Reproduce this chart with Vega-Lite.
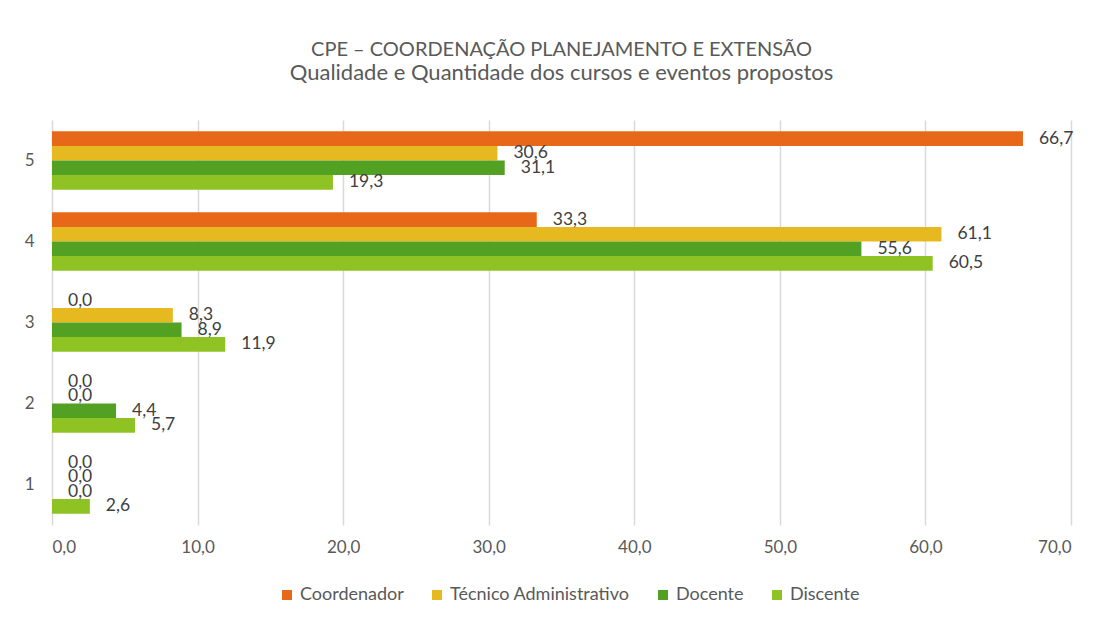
{
  "$schema": "https://vega.github.io/schema/vega-lite/v6.json",
  "autosize": "none",
  "width": 1019,
  "height": 405,
  "padding": {"left": 52, "top": 120, "right": 33, "bottom": 96},
  "background": "white",
  "config": {
    "font": "Lato",
    "view": {"stroke": null},
    "locale": {"number": {"decimal": ",", "thousands": ".", "grouping": [3], "currency": ["R$", ""]}}
  },
  "title": {
    "text": "CPE – COORDENAÇÃO PLANEJAMENTO E EXTENSÃO",
    "subtitle": "Qualidade e Quantidade dos cursos e eventos propostos",
    "fontSize": 20,
    "fontWeight": "normal",
    "color": "#595959",
    "subtitleFontSize": 22,
    "subtitleColor": "#595959",
    "subtitlePadding": 3,
    "anchor": "middle",
    "offset": 36
  },
  "data": {
    "values": [
      {"nota": "5", "grupo": "Coordenador", "valor": 66.7},
      {"nota": "5", "grupo": "Técnico Administrativo", "valor": 30.6},
      {"nota": "5", "grupo": "Docente", "valor": 31.1},
      {"nota": "5", "grupo": "Discente", "valor": 19.3},
      {"nota": "4", "grupo": "Coordenador", "valor": 33.3},
      {"nota": "4", "grupo": "Técnico Administrativo", "valor": 61.1},
      {"nota": "4", "grupo": "Docente", "valor": 55.6},
      {"nota": "4", "grupo": "Discente", "valor": 60.5},
      {"nota": "3", "grupo": "Coordenador", "valor": 0.0},
      {"nota": "3", "grupo": "Técnico Administrativo", "valor": 8.3},
      {"nota": "3", "grupo": "Docente", "valor": 8.9},
      {"nota": "3", "grupo": "Discente", "valor": 11.9},
      {"nota": "2", "grupo": "Coordenador", "valor": 0.0},
      {"nota": "2", "grupo": "Técnico Administrativo", "valor": 0.0},
      {"nota": "2", "grupo": "Docente", "valor": 4.4},
      {"nota": "2", "grupo": "Discente", "valor": 5.7},
      {"nota": "1", "grupo": "Coordenador", "valor": 0.0},
      {"nota": "1", "grupo": "Técnico Administrativo", "valor": 0.0},
      {"nota": "1", "grupo": "Docente", "valor": 0.0},
      {"nota": "1", "grupo": "Discente", "valor": 2.6}
    ]
  },
  "encoding": {
    "y": {
      "field": "nota", "type": "ordinal", "sort": ["5", "4", "3", "2", "1"],
      "scale": {"paddingInner": 0.278, "paddingOuter": 0.139},
      "axis": {"title": null, "domain": false, "ticks": false, "labelPadding": 18, "labelFontSize": 17, "labelColor": "#595959", "labelAngle": 0}
    },
    "yOffset": {
      "field": "grupo", "type": "nominal",
      "sort": ["Coordenador", "Técnico Administrativo", "Docente", "Discente"],
      "scale": {"paddingInner": 0, "paddingOuter": 0}
    },
    "x": {
      "field": "valor", "type": "quantitative",
      "scale": {"domain": [0, 70], "nice": false},
      "axis": {"title": null, "format": ".1f", "values": [0, 10, 20, 30, 40, 50, 60, 70], "domain": false, "ticks": false, "labelPadding": 14, "labelFontSize": 17, "labelColor": "#595959", "gridColor": "#D9D9D9", "gridWidth": 1.5}
    }
  },
  "layer": [
    {
      "mark": {"type": "bar"},
      "encoding": {
        "color": {
          "field": "grupo", "type": "nominal",
          "sort": ["Coordenador", "Técnico Administrativo", "Docente", "Discente"],
          "scale": {"domain": ["Coordenador", "Técnico Administrativo", "Docente", "Discente"], "range": ["#E8681A", "#E6B920", "#52A123", "#8FC323"]},
          "legend": {"title": null, "orient": "none", "legendX": 226, "legendY": 466, "direction": "horizontal", "symbolType": "square", "symbolSize": 100, "symbolStrokeWidth": 0, "labelFontSize": 18, "labelColor": "#595959", "labelOffset": 4, "labelLimit": 400, "columnPadding": 24}
        }
      }
    },
    {
      "mark": {"type": "text", "align": "left", "baseline": "middle", "dx": 16, "fontSize": 17.5, "color": "#404040"},
      "encoding": {
        "text": {"field": "valor", "type": "quantitative", "format": ".1f"}
      }
    }
  ]
}
